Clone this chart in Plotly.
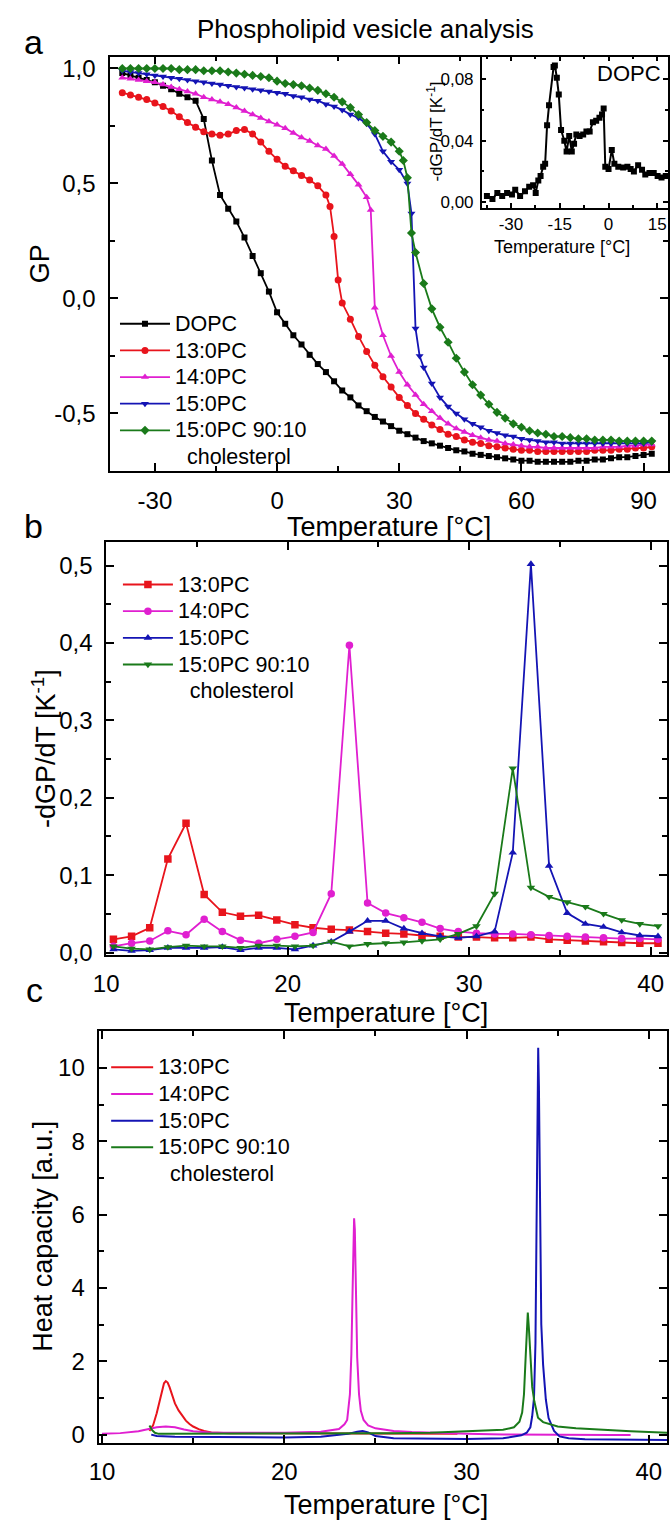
import plotly.graph_objects as go

FONT = "Liberation Sans, Arial, sans-serif"
W, H = 670, 1531

BLACK = "#000000"
RED = "#e8141c"
MAGENTA = "#e01fd0"
BLUE = "#1414b4"
GREEN = "#1a7a1a"

# ---------------- Panel a : GP vs temperature ----------------
T_DOPC = [-38, -36, -34, -32, -30, -28, -26, -24, -22, -20, -18, -16, -14, -12, -10, -8, -6, -4, -2, 0,
          2, 4, 6, 8, 10, 12, 14, 16, 18, 20, 22, 24, 26, 28, 30, 32, 34, 36, 38, 40,
          42, 44, 46, 48, 50, 52, 54, 56, 58, 60, 62, 64, 66, 68, 70, 72, 74, 76, 78, 80,
          82, 84, 86, 88, 90, 92]
GP_DOPC = [0.98, 0.97, 0.96, 0.95, 0.94, 0.925, 0.91, 0.89, 0.875, 0.86, 0.78, 0.60, 0.45, 0.39, 0.335, 0.265, 0.185, 0.11, 0.03, -0.06,
           -0.11, -0.16, -0.20, -0.245, -0.285, -0.32, -0.36, -0.40, -0.43, -0.465, -0.49, -0.515, -0.535, -0.555, -0.575, -0.59, -0.605, -0.62, -0.63, -0.64,
           -0.65, -0.66, -0.665, -0.675, -0.68, -0.685, -0.69, -0.695, -0.70, -0.705, -0.705, -0.71, -0.71, -0.71, -0.71, -0.71, -0.705, -0.705, -0.70, -0.70,
           -0.695, -0.69, -0.69, -0.685, -0.68, -0.675]

T_13 = [-38, -36, -34, -32, -30, -28, -26, -24, -22, -20, -18, -16, -14, -12, -10, -8, -6, -4, -2, 0,
        2, 4, 6, 8, 10, 12, 13, 14, 15, 16, 18, 20, 22, 24, 26, 28, 30, 32, 34, 36, 38, 40,
        42, 44, 46, 48, 50, 52, 54, 56, 58, 60, 62, 64, 66, 68, 70, 72, 74, 76, 78, 80,
        82, 84, 86, 88, 90, 92]
GP_13 = [0.895, 0.885, 0.875, 0.865, 0.85, 0.835, 0.815, 0.79, 0.765, 0.745, 0.725, 0.715, 0.71, 0.715, 0.73, 0.735, 0.715, 0.68, 0.64, 0.605,
         0.575, 0.555, 0.535, 0.515, 0.49, 0.45, 0.40, 0.27, 0.08, -0.02, -0.09, -0.165, -0.23, -0.29, -0.34, -0.385, -0.43, -0.465, -0.50, -0.525, -0.55, -0.57,
         -0.59, -0.60, -0.615, -0.625, -0.63, -0.64, -0.645, -0.65, -0.655, -0.66, -0.66, -0.665, -0.665, -0.665, -0.665, -0.665, -0.665, -0.665, -0.66, -0.66,
         -0.66, -0.655, -0.655, -0.65, -0.65, -0.645]

T_14 = [-38, -36, -34, -32, -30, -28, -26, -24, -22, -20, -18, -16, -14, -12, -10, -8, -6, -4, -2, 0,
        2, 4, 6, 8, 10, 12, 14, 16, 18, 20, 22, 23, 24, 26, 28, 30, 32, 34, 36, 38, 40,
        42, 44, 46, 48, 50, 52, 54, 56, 58, 60, 62, 64, 66, 68, 70, 72, 74, 76, 78, 80,
        82, 84, 86, 88, 90, 92]
GP_14 = [0.96, 0.955, 0.95, 0.945, 0.94, 0.93, 0.92, 0.91, 0.90, 0.89, 0.875, 0.865, 0.855, 0.845, 0.83, 0.815, 0.80, 0.785, 0.77, 0.755,
         0.74, 0.72, 0.70, 0.685, 0.665, 0.65, 0.62, 0.585, 0.54, 0.495, 0.44, 0.385, -0.04, -0.16, -0.25, -0.32, -0.375, -0.42, -0.46, -0.49, -0.52,
         -0.545, -0.565, -0.58, -0.595, -0.605, -0.615, -0.62, -0.63, -0.635, -0.64, -0.645, -0.645, -0.65, -0.65, -0.65, -0.65, -0.65, -0.65, -0.65, -0.645,
         -0.645, -0.645, -0.64, -0.64, -0.635, -0.635]

T_15 = [-38, -36, -34, -32, -30, -28, -26, -24, -22, -20, -18, -16, -14, -12, -10, -8, -6, -4, -2, 0,
        2, 4, 6, 8, 10, 12, 14, 16, 18, 20, 22, 24, 26, 28, 30, 32, 33, 34, 35, 36, 38, 40,
        42, 44, 46, 48, 50, 52, 54, 56, 58, 60, 62, 64, 66, 68, 70, 72, 74, 76, 78, 80,
        82, 84, 86, 88, 90, 92]
GP_15 = [0.99, 0.985, 0.98, 0.975, 0.97, 0.965, 0.96, 0.955, 0.95, 0.945, 0.94, 0.935, 0.93, 0.925, 0.92, 0.915, 0.91, 0.905, 0.90, 0.895,
         0.89, 0.88, 0.875, 0.865, 0.86, 0.845, 0.835, 0.82, 0.80, 0.785, 0.76, 0.715, 0.64, 0.595, 0.56, 0.50, 0.37, -0.13, -0.25, -0.30, -0.37, -0.43,
         -0.47, -0.50, -0.525, -0.545, -0.56, -0.575, -0.585, -0.595, -0.60, -0.61, -0.615, -0.62, -0.625, -0.625, -0.63, -0.63, -0.63, -0.63, -0.63, -0.63,
         -0.63, -0.63, -0.63, -0.63, -0.63, -0.625]

T_CHOL = [-38, -36, -34, -32, -30, -28, -26, -24, -22, -20, -18, -16, -14, -12, -10, -8, -6, -4, -2, 0,
          2, 4, 6, 8, 10, 12, 14, 16, 18, 20, 22, 24, 26, 28, 30, 31, 32, 33, 34, 36, 38, 40,
          42, 44, 46, 48, 50, 52, 54, 56, 58, 60, 62, 64, 66, 68, 70, 72, 74, 76, 78, 80,
          82, 84, 86, 88, 90, 92]
GP_CHOL = [1.0, 1.0, 1.0, 1.0, 1.0, 1.0, 1.0, 0.995, 0.995, 0.995, 0.99, 0.99, 0.99, 0.985, 0.98, 0.975, 0.97, 0.965, 0.96, 0.945,
           0.935, 0.93, 0.925, 0.915, 0.905, 0.89, 0.875, 0.855, 0.83, 0.80, 0.765, 0.73, 0.705, 0.68, 0.64, 0.60, 0.525, 0.285, 0.20, 0.065, -0.045, -0.125,
           -0.19, -0.26, -0.32, -0.375, -0.42, -0.46, -0.495, -0.52, -0.545, -0.56, -0.575, -0.585, -0.59, -0.60, -0.60, -0.605, -0.61, -0.61, -0.615, -0.615,
           -0.615, -0.62, -0.62, -0.62, -0.62, -0.62]

# ---------------- Inset : DOPC derivative ----------------
T_INSET = [-37.4, -35.7, -34.2, -32.7, -31.2, -29.7, -28.7, -27.2, -25.7, -24.4, -23.2, -22.4, -21.6, -20.9, -20.1, -19.5,
           -18.9, -18.3, -16.9, -16.5, -15.9, -15.3, -14.6, -13.6, -12.9, -12.1, -11.3, -10.6, -9.9, -8.9, -7.8, -6.8,
           -5.8, -4.8, -3.8, -2.8, -2.0, -1.5, -1.0, 0.0, 1.0, 1.8, 3.0, 4.5, 5.8, 6.8, 7.8, 9.1, 10.3, 11.3, 12.6,
           13.9, 15.1, 16.3, 17.6]
DGP_INSET = [0.004, 0.002, 0.006, 0.004, 0.006, 0.005, 0.008, 0.004, 0.007, 0.010, 0.011, 0.006, 0.014, 0.017, 0.023, 0.025,
             0.050, 0.063, 0.088, 0.089, 0.081, 0.070, 0.047, 0.040, 0.033, 0.043, 0.033, 0.038, 0.044, 0.043, 0.044, 0.046,
             0.046, 0.052, 0.053, 0.055, 0.057, 0.061, 0.023, 0.0215, 0.034, 0.025, 0.023, 0.0226, 0.023, 0.0215, 0.020, 0.024, 0.021, 0.018, 0.019,
             0.019, 0.017, 0.016, 0.017]

# ---------------- Panel b : -dGP/dT ----------------
T_B = [10.4, 11.4, 12.4, 13.4, 14.4, 15.4, 16.4, 17.4, 18.4, 19.4, 20.4, 21.4, 22.4, 23.4, 24.4, 25.4,
       26.4, 27.4, 28.4, 29.4, 30.4, 31.4, 32.4, 33.4, 34.4, 35.4, 36.4, 37.4, 38.4, 39.4, 40.4]
B_13 = [0.017, 0.021, 0.032, 0.121, 0.167, 0.075, 0.052, 0.047, 0.048, 0.042, 0.036, 0.032, 0.030, 0.029, 0.027, 0.025,
        0.024, 0.022, 0.021, 0.020, 0.020, 0.019, 0.019, 0.020, 0.017, 0.016, 0.015, 0.014, 0.013, 0.012, 0.012]
B_14 = [0.008, 0.012, 0.015, 0.028, 0.023, 0.043, 0.027, 0.016, 0.012, 0.017, 0.021, 0.026, 0.076, 0.397, 0.064, 0.051,
        0.045, 0.039, 0.031, 0.027, 0.025, 0.024, 0.024, 0.023, 0.022, 0.021, 0.020, 0.019, 0.018, 0.018, 0.017]
B_15 = [0.004, 0.002, 0.003, 0.006, 0.006, 0.006, 0.007, 0.003, 0.006, 0.006, 0.004, 0.009, 0.014, 0.027, 0.041, 0.041,
        0.031, 0.025, 0.021, 0.019, 0.021, 0.027, 0.129, 0.502, 0.112, 0.051, 0.037, 0.033, 0.026, 0.022, 0.021]
B_CHOL = [0.008, 0.005, 0.004, 0.007, 0.009, 0.008, 0.008, 0.006, 0.009, 0.009, 0.008, 0.009, 0.014, 0.008, 0.011, 0.012,
          0.013, 0.015, 0.017, 0.024, 0.034, 0.076, 0.238, 0.084, 0.072, 0.065, 0.059, 0.050, 0.042, 0.037, 0.034]

# ---------------- Panel c : heat capacity ----------------
T_C13 = [12.6, 12.8, 13.0, 13.1, 13.2, 13.3, 13.4, 13.5, 13.6, 13.7, 13.8, 13.9, 14.0, 14.2, 14.4, 14.6, 14.8, 15.0,
         15.3, 15.6, 16.0, 16.5, 17.0, 18.0, 20.0, 22.0, 24.0, 26.0, 28.0, 29.5]
CP_13 = [0.10, 0.25, 0.58, 0.80, 1.02, 1.25, 1.40, 1.46, 1.42, 1.30, 1.15, 1.00, 0.85, 0.66, 0.52, 0.38, 0.29, 0.22,
         0.15, 0.10, 0.06, 0.045, 0.04, 0.035, 0.03, 0.03, 0.02, 0.02, 0.02, 0.02]

T_C14 = [10.0, 11.0, 12.0, 12.5, 13.0, 13.5, 14.0, 14.5, 15.0, 16.0, 18.0, 20.0, 22.0, 23.0, 23.3, 23.45, 23.6, 23.68,
         23.75, 23.8, 23.83, 23.87, 23.92, 24.0, 24.1, 24.2, 24.35, 24.6, 25.0, 26.0, 27.0, 28.0, 30.0, 32.0, 34.0,
         36.0, 38.0, 39.0]
CP_14 = [0.02, 0.04, 0.09, 0.15, 0.20, 0.22, 0.20, 0.14, 0.09, 0.05, 0.04, 0.05, 0.08, 0.15, 0.28, 0.40, 1.10, 2.20,
         4.00, 5.50, 5.90, 5.60, 4.20, 2.10, 1.10, 0.65, 0.40, 0.25, 0.17, 0.10, 0.07, 0.05, 0.02, 0.0, -0.01,
         -0.01, -0.01, -0.01]

T_C15 = [12.7, 13.0, 14.0, 16.0, 18.0, 20.0, 22.0, 23.5, 24.0, 24.3, 24.6, 25.0, 26.0, 28.0, 30.0, 32.0, 33.0, 33.3,
         33.5, 33.6, 33.7, 33.78, 33.84, 33.9, 33.93, 33.97, 34.02, 34.1, 34.2, 34.35, 34.5, 34.8, 35.1, 35.6, 36.5,
         38.0, 40.0, 41.0]
CP_15 = [0.0, -0.04, -0.06, -0.07, -0.08, -0.08, -0.06, 0.02, 0.08, 0.10, 0.06, -0.04, -0.10, -0.12, -0.12, -0.10, -0.02, 0.05,
         0.20, 0.50, 1.00, 2.50, 6.00, 10.0, 10.55, 9.50, 6.50, 3.00, 1.90, 0.95, 0.45, 0.10, -0.05, -0.10, -0.13,
         -0.14, -0.15, -0.15]

T_CCHOL = [12.6, 12.75, 12.9, 13.1, 13.5, 14.0, 16.0, 18.0, 20.0, 22.0, 24.0, 26.0, 28.0, 30.0, 31.0, 32.0, 32.6, 32.9,
           33.05, 33.15, 33.25, 33.32, 33.36, 33.42, 33.5, 33.6, 33.72, 33.92, 34.2, 34.6, 35.0, 36.0, 37.4, 39.0, 41.0]
CP_CHOL = [0.25, 0.12, 0.05, 0.02, 0.02, 0.02, 0.02, 0.02, 0.03, 0.03, 0.03, 0.04, 0.05, 0.08, 0.10, 0.13, 0.20, 0.35,
           0.60, 1.10, 2.20, 3.10, 3.33, 2.90, 2.00, 1.30, 0.90, 0.46, 0.34, 0.27, 0.22, 0.17, 0.13, 0.09, 0.05]

# ---------------- tick values / labels ----------------
A_XTICKS = [-30, 0, 30, 60, 90]
A_XTEXT = ["-30", "0", "30", "60", "90"]
A_YTICKS = [1.0, 0.5, 0.0, -0.5]
A_YTEXT = ["1,0", "0,5", "0,0", "-0,5"]
IN_XTICKS = [-30, -15, 0, 15]
IN_XTEXT = ["-30", "-15", "0", "15"]
IN_YTICKS = [0.0, 0.04, 0.08]
IN_YTEXT = ["0,00", "0,04", "0,08"]
B_XTICKS = [10, 20, 30, 40]
B_XTEXT = ["10", "20", "30", "40"]
B_YTICKS = [0.0, 0.1, 0.2, 0.3, 0.4, 0.5]
B_YTEXT = ["0,0", "0,1", "0,2", "0,3", "0,4", "0,5"]
C_YTICKS = [0, 2, 4, 6, 8, 10]
C_YTEXT = ["0", "2", "4", "6", "8", "10"]


def fx(p):
    return p / W


def fy(p):
    return 1 - p / H


def axis(rng, dom, anchor, tv, tt, mtick0, mdtick, fsize=24, tlen=8, mlen=5, standoff=6):
    return dict(range=rng, domain=dom, anchor=anchor, showgrid=False, zeroline=False,
                showline=True, linecolor="black", linewidth=1.5, mirror="allticks",
                ticks="inside", ticklen=tlen, tickwidth=1.5, tickcolor="black",
                tickmode="array", tickvals=tv, ticktext=tt,
                tickfont=dict(family=FONT, size=fsize, color="black"),
                ticklabelstandoff=standoff,
                minor=dict(ticks="inside", ticklen=mlen, tickwidth=1.5, tickcolor="black",
                           tick0=mtick0, dtick=mdtick, showgrid=False))


def lg(s):
    return '<span style="font-size:21.5px">' + s + '</span>'


fig = go.Figure()

# panel a traces
a_series = [("DOPC", T_DOPC, GP_DOPC, BLACK, "square", 6),
            ("13:0PC", T_13, GP_13, RED, "circle", 7),
            ("14:0PC", T_14, GP_14, MAGENTA, "triangle-up", 7),
            ("15:0PC", T_15, GP_15, BLUE, "triangle-down", 7),
            ("15:0PC 90:10", T_CHOL, GP_CHOL, GREEN, "diamond", 7)]
for name, t, v, col, sym, sz in a_series:
    fig.add_trace(go.Scatter(x=t, y=v, name=lg(name), mode="lines+markers",
                             line=dict(color=col, width=1.8),
                             marker=dict(symbol=sym, size=sz, color=col),
                             xaxis="x", yaxis="y", legend="legend"))
fig.add_trace(go.Scatter(x=[None], y=[None], name=lg("\u00a0\u00a0cholesterol"), mode="lines",
                         line=dict(color="rgba(0,0,0,0)"), xaxis="x", yaxis="y", legend="legend"))

# inset
fig.add_trace(go.Scatter(x=T_INSET, y=DGP_INSET, mode="lines+markers", showlegend=False,
                         line=dict(color=BLACK, width=2),
                         marker=dict(symbol="square", size=6, color=BLACK),
                         xaxis="x2", yaxis="y2"))

# panel b traces
b_series = [("13:0PC", B_13, RED, "square"),
            ("14:0PC", B_14, MAGENTA, "circle"),
            ("15:0PC", B_15, BLUE, "triangle-up"),
            ("15:0PC 90:10", B_CHOL, GREEN, "triangle-down")]
for name, v, col, sym in b_series:
    fig.add_trace(go.Scatter(x=T_B, y=v, name=lg(name), mode="lines+markers",
                             line=dict(color=col, width=1.8),
                             marker=dict(symbol=sym, size=7.5, color=col),
                             xaxis="x3", yaxis="y3", legend="legend2"))
fig.add_trace(go.Scatter(x=[None], y=[None], name=lg("\u00a0\u00a0cholesterol"), mode="lines",
                         line=dict(color="rgba(0,0,0,0)"), xaxis="x3", yaxis="y3", legend="legend2"))

# panel c traces
c_series = [("13:0PC", T_C13, CP_13, RED),
            ("14:0PC", T_C14, CP_14, MAGENTA),
            ("15:0PC", T_C15, CP_15, BLUE),
            ("15:0PC 90:10", T_CCHOL, CP_CHOL, GREEN)]
for name, t, v, col in c_series:
    fig.add_trace(go.Scatter(x=t, y=v, name=lg(name), mode="lines",
                             line=dict(color=col, width=2),
                             xaxis="x4", yaxis="y4", legend="legend3"))
fig.add_trace(go.Scatter(x=[None], y=[None], name=lg("\u00a0\u00a0cholesterol"), mode="lines",
                         line=dict(color="rgba(0,0,0,0)"), xaxis="x4", yaxis="y4", legend="legend3"))

leg_common = dict(xanchor="left", yanchor="top", bgcolor="rgba(0,0,0,0)", borderwidth=0,
                  font=dict(family=FONT, size=18.2, color="black"), tracegroupgap=0)

ann = []


def text(x, y, s, size, angle=0):
    ann.append(dict(x=fx(x), y=fy(y), xref="paper", yref="paper", text=s, showarrow=False,
                    textangle=angle, xanchor="center", yanchor="middle",
                    font=dict(family=FONT, size=size, color="black")))


text(359, 27, "Phospholipid vesicle analysis", 26)
text(21, 40, "a", 34)
text(21, 528, "b", 34)
text(22, 996, "c", 34)
text(27, 264, "GP", 27, -90)
text(383, 530, "Temperature [°C]", 27)
text(31, 753, "-dGP/dT [K<sup>-1</sup>]", 27, -90)
text(380, 1020, "Temperature [°C]", 27)
text(31, 1245, "Heat capacity [a.u.]", 27, -90)
text(380, 1516, "Temperature [°C]", 27)
text(628, 72, "DOPC", 22)
text(560, 247, "Temperature [°C]", 18)
text(430, 131, "-dGP/dT [K<sup>-1</sup>]", 17, -90)

fig.update_layout(
    width=W, height=H, autosize=False,
    margin=dict(l=0, r=0, t=0, b=0),
    paper_bgcolor="white", plot_bgcolor="white",
    font=dict(family=FONT, color="black"),
    showlegend=True,
    xaxis=axis([-41, 96], [fx(99), fx(668)], "y", A_XTICKS, A_XTEXT, -45, 30, standoff=7),
    yaxis=axis([-0.75, 1.052], [fy(473), fy(55)], "x", A_YTICKS, A_YTEXT, -0.75, 0.25, standoff=8),
    xaxis2=axis([-39, 18.3], [fx(478), fx(668)], "y2", IN_XTICKS, IN_XTEXT, -37.5, 7.5, fsize=17, tlen=5, mlen=3, standoff=0),
    yaxis2=axis([-0.004, 0.0948], [fy(208), fy(55)], "x2", IN_YTICKS, IN_YTEXT, 0.0, 0.02, fsize=17, tlen=5, mlen=3, standoff=3),
    xaxis3=axis([10, 40.9], [fx(95), fx(667)], "y3", B_XTICKS, B_XTEXT, 5, 10, standoff=7),
    yaxis3=axis([-0.003, 0.53], [fy(961), fy(545)], "x3", B_YTICKS, B_YTEXT, 0.05, 0.1, standoff=7),
    xaxis4=axis([9.85, 41.0], [fx(88), fx(667)], "y4", B_XTICKS, B_XTEXT, 5, 10, standoff=7),
    yaxis4=axis([-0.22, 11.0], [fy(1453), fy(1038)], "x4", C_YTICKS, C_YTEXT, 1, 2, standoff=8),
    legend=dict(x=fx(104), y=fy(306), itemwidth=50, **leg_common),
    legend2=dict(x=fx(107), y=fy(569), itemwidth=50, **leg_common),
    legend3=dict(x=fx(95), y=fy(1056), itemwidth=42, **leg_common),
    annotations=ann,
)

fig.write_html("out.html", config={"displayModeBar": False},
               post_script="document.body.style.margin='0';document.body.style.overflow='hidden';")
